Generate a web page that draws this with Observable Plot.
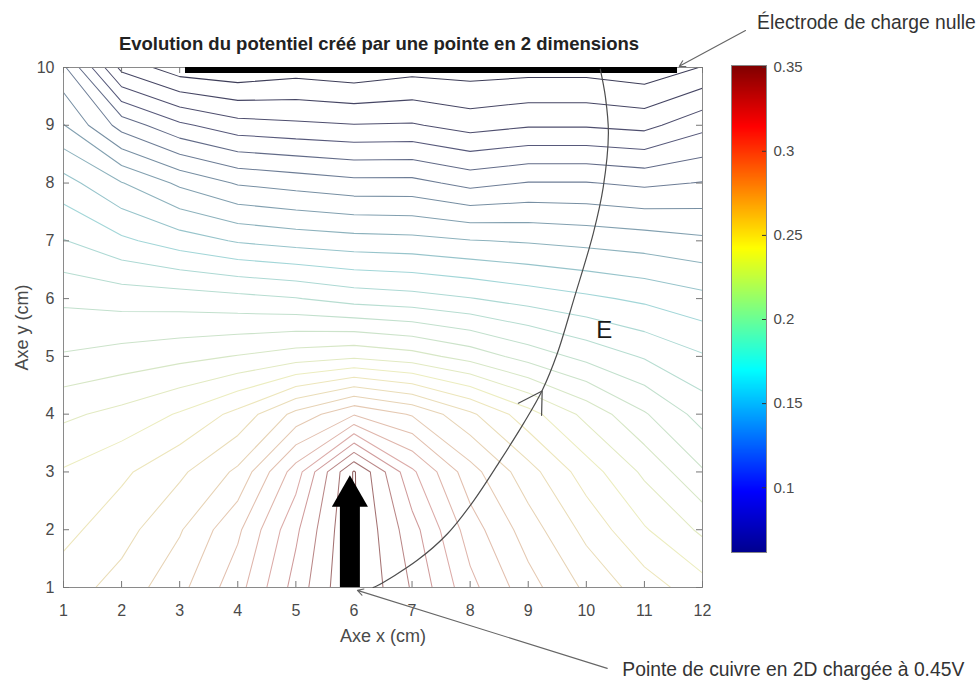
<!DOCTYPE html>
<html>
<head>
<meta charset="utf-8">
<script src="https://cdn.jsdelivr.net/npm/d3@7"></script>
<script src="https://cdn.jsdelivr.net/npm/@observablehq/plot@0.6"></script>
<style>
  body { margin: 0; background: #fff; }
  #fig { position: relative; width: 980px; height: 682px; }
  #fig svg { position: absolute; overflow: visible; }
</style>
</head>
<body>
<div id="fig"></div>
<script>
// Potentiel mesuré (V) sur la grille x = 1..12 cm, une ligne par ordonnée y (cm)
const potY10 = [0.122, 0.077, 0.064, 0.0615, 0.065, 0.0625, 0.066, 0.065, 0.066, 0.066, 0.063, 0.0705];
const potY9  = [0.1405, 0.116, 0.102, 0.094, 0.092, 0.0905, 0.091, 0.086, 0.089, 0.089, 0.087, 0.097];
const potY8  = [0.164, 0.1505, 0.138, 0.129, 0.126, 0.123, 0.123, 0.117, 0.1205, 0.1205, 0.118, 0.1205];
const potY7  = [0.1805, 0.172, 0.165, 0.159, 0.156, 0.154, 0.153, 0.1505, 0.149, 0.147, 0.145, 0.142];
const potY6  = [0.198, 0.196, 0.195, 0.193, 0.1905, 0.186, 0.184, 0.1805, 0.176, 0.172, 0.168, 0.163];
const potY5  = [0.211, 0.214, 0.217, 0.2205, 0.225, 0.228, 0.224, 0.216, 0.206, 0.197, 0.189, 0.181];
const potY4  = [0.228, 0.233, 0.241, 0.253, 0.273, 0.289, 0.279, 0.262, 0.244, 0.227, 0.211, 0.196];
const potY3  = [0.241, 0.248, 0.258, 0.272, 0.305, 0.351, 0.312, 0.284, 0.264, 0.245, 0.228, 0.211];
const potY2  = [0.247, 0.256, 0.269, 0.288, 0.318, 0.351, 0.324, 0.295, 0.275, 0.257, 0.241, 0.228];
const potY1  = [0.255, 0.264, 0.277, 0.296, 0.324, 0.351, 0.329, 0.303, 0.284, 0.268, 0.255, 0.244];

// Niveaux des équipotentielles (V)
const niveaux = [0.07, 0.08, 0.09, 0.10, 0.11, 0.12, 0.13, 0.14, 0.15, 0.16,
                 0.17, 0.18, 0.19, 0.20, 0.21, 0.22, 0.23, 0.24, 0.25, 0.26,
                 0.27, 0.28, 0.29, 0.30, 0.31, 0.32, 0.33, 0.34, 0.35];

// Graduations
const xTicks = [1, 2, 3, 4, 5, 6, 7, 8, 9, 10, 11, 12];
const yTicks = [1, 2, 3, 4, 5, 6, 7, 8, 9, 10];
const cbTicks = [0.1, 0.15, 0.2, 0.25, 0.3, 0.35];

// Ligne de champ E (cm) et sa flèche
const ligneEx = [6.33, 6.40, 7.09, 7.61, 8.06, 8.52, 8.92, 9.24, 9.50, 9.78, 10.12, 10.29, 10.38, 10.33, 10.24];
const ligneEy = [1.00, 1.03, 1.47, 1.93, 2.50, 3.20, 3.84, 4.41, 5.05, 5.97, 7.13, 7.92, 8.86, 9.48, 9.97];
const flecheEx = [8.83, 9.24, 9.23];
const flecheEy = [4.19, 4.40, 3.98];

// Électrode de charge nulle (segment en y = 10) et pointe de cuivre (x = 5.93)
const electrode = [{x1: 3.10, x2: 11.57, y: 10}];
const pointe = [{x: 5.93, y1: 1, y2: 2.45, yTete: 2.58}];

// Annotations
const notes = [
  {texte: "Électrode de charge nulle", x: 12.94, y: 10.78, x1: 12.74, y1: 10.64, x2: 11.60, y2: 10.02},
  {texte: "Pointe de cuivre en 2D chargée à 0.45V", x: 10.62, y: -0.43, x1: 10.36, y1: -0.40, x2: 6.06, y2: 0.95}
];
const labelE = [{texte: "E", x: 10.31, y: 5.45}];
const titre = "Evolution du potentiel créé par une pointe en 2 dimensions";

// Palette « jet » (barre de couleur) et sa version atténuée pour les lignes de niveau
const vMin = 0.0615, vMax = 0.351;
const jetPos = [0, 0.125, 0.375, 0.625, 0.875, 1];
const jetCouleurs = ["#00008f", "#0000ff", "#00ffff", "#ffff00", "#ff0000", "#800000"];
const jetLignes = ["#37374f", "#555578", "#a2d6d8", "#efeebe", "#dba6a6", "#8c5c5c"];
const domaineJet = jetPos.map(t => vMin + t * (vMax - vMin));

const grille = [...potY10, ...potY9, ...potY8, ...potY7, ...potY6,
                ...potY5, ...potY4, ...potY3, ...potY2, ...potY1];

const W = 980, H = 682, mL = 63, mR = 278, mT = 67, mB = 95;
const frameW = W - mL - mR, frameH = H - mT - mB;
const police = "'Liberation Sans', Arial, sans-serif";

const main = Plot.plot({
  width: W, height: H,
  marginLeft: mL, marginRight: mR, marginTop: mT, marginBottom: mB,
  style: {fontFamily: police, fontSize: "16px", background: "transparent", color: "#333"},
  x: {domain: [1, 12]},
  y: {domain: [1, 10]},
  color: {type: "linear", domain: domaineJet, range: jetLignes, interpolate: "rgb"},
  marks: [
    Plot.contour(grille, {
      x1: 0.5, x2: 12.5, y1: 10.5, y2: 0.5, width: 12, height: 10,
      thresholds: niveaux, fill: "none", stroke: Plot.identity,
      strokeWidth: 1.05, clip: true
    }),
    Plot.frame({stroke: "#8a8a8a"}),
    Plot.tickX(xTicks, {x: d => d, insetTop: frameH - 6, stroke: "#777"}),
    Plot.tickX(xTicks, {x: d => d, insetBottom: frameH - 6, stroke: "#777"}),
    Plot.tickY(yTicks, {y: d => d, insetRight: frameW - 6, stroke: "#777"}),
    Plot.tickY(yTicks, {y: d => d, insetLeft: frameW - 6, stroke: "#777"}),
    Plot.axisX(xTicks, {anchor: "bottom", tickSize: 0, tickPadding: 17, fontSize: 16, fill: "#4a4a4a", tickFormat: d => String(d), label: null}),
    Plot.axisY(yTicks, {anchor: "left", tickSize: 0, tickPadding: 9, fontSize: 16, fill: "#4a4a4a", tickFormat: d => String(d), label: null}),
    Plot.text(["Axe x (cm)"], {frameAnchor: "bottom", lineAnchor: "middle", dy: 49, fontSize: 18, fill: "#4a4a4a"}),
    Plot.text(["Axe y (cm)"], {frameAnchor: "left", lineAnchor: "middle", textAnchor: "middle", dx: -41, rotate: -90, fontSize: 18, fill: "#4a4a4a"}),
    Plot.text([titre], {frameAnchor: "top", lineAnchor: "middle", dy: -23, dx: -4, fontSize: 18.5, fontWeight: "bold", fill: "#222"}),
    // électrode à potentiel nul
    Plot.ruleY(electrode, {y: "y", x1: "x1", x2: "x2", strokeWidth: 6, stroke: "#000", dy: 2.5}),
    // pointe de cuivre
    Plot.ruleX(pointe, {x: "x", y1: "y1", y2: "y2", strokeWidth: 20, stroke: "#000"}),
    Plot.dot(pointe, {x: "x", y: "yTete", symbol: "triangle", r: 13.4, fill: "#000"}),
    // ligne de champ
    Plot.line(ligneEx.map((x, i) => ({x, y: ligneEy[i]})), {x: "x", y: "y", curve: "catmull-rom", stroke: "#4d4d4d", strokeWidth: 1.2}),
    Plot.line(flecheEx.map((x, i) => ({x, y: flecheEy[i]})), {x: "x", y: "y", stroke: "#4d4d4d", strokeWidth: 1.2}),
    Plot.text(labelE, {x: "x", y: "y", text: "texte", fontSize: 24, fill: "#1a1a1a"}),
    // annotations
    Plot.arrow(notes, {x1: "x1", y1: "y1", x2: "x2", y2: "y2", stroke: "#666", strokeWidth: 1.1, headLength: 9}),
    Plot.text(notes, {x: "x", y: "y", text: "texte", textAnchor: "start", fontSize: 19.3, fill: "#333"})
  ]
});

// Barre de couleur verticale
const cbTop = 65, cbBottom = 552, cbLeft = 731, cbWidth = 35;
const barre = Plot.plot({
  width: 120, height: (cbBottom - cbTop) + 20,
  marginTop: 10, marginBottom: 10, marginLeft: 6, marginRight: 120 - 6 - cbWidth,
  style: {fontFamily: police, fontSize: "15px", background: "transparent", color: "#333"},
  x: {domain: [0, 1], axis: null},
  y: {domain: [vMin, vMax], axis: null},
  color: {type: "linear", domain: domaineJet, range: jetCouleurs, interpolate: "rgb"},
  marks: [
    Plot.raster({fill: (x, y) => y, x1: 0, x2: 1, y1: vMin, y2: vMax, width: 1, height: 300, imageRendering: "auto"}),
    Plot.frame({stroke: "#888"}),
    Plot.tickY(cbTicks, {y: d => d, insetLeft: cbWidth - 4, stroke: "#333"}),
    Plot.axisY(cbTicks, {anchor: "right", tickSize: 0, tickPadding: 7, fontSize: 15, fill: "#4a4a4a", tickFormat: d => String(d), label: null})
  ]
});

const fig = document.getElementById("fig");
main.style.left = "0px"; main.style.top = "0px";
barre.style.left = (cbLeft - 6) + "px"; barre.style.top = (cbTop - 10) + "px";
fig.appendChild(main);
fig.appendChild(barre);
</script>
</body>
</html>
